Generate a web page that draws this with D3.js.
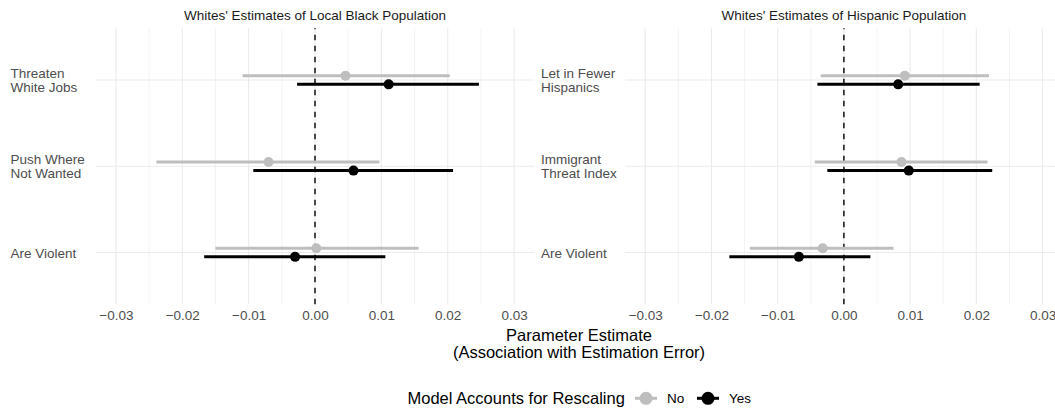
<!DOCTYPE html>
<html>
<head>
<meta charset="utf-8">
<script src="https://cdn.jsdelivr.net/npm/d3@7"></script>
<style>
  html, body { margin: 0; padding: 0; background: #ffffff; }
  svg { display: block; font-family: "Liberation Sans", Arial, Helvetica, sans-serif; }
</style>
</head>
<body>
<svg id="chart" width="1055" height="411"></svg>
<script>
// Panel titles and outcome labels (line breaks marked with \n)
const panelTitles = ["Whites' Estimates of Local Black Population", "Whites' Estimates of Hispanic Population"];
const blackCategories = ["Threaten\nWhite Jobs", "Push Where\nNot Wanted", "Are Violent"];
const hispanicCategories = ["Let in Fewer\nHispanics", "Immigrant\nThreat Index", "Are Violent"];
const models = ["No", "Yes"];
const modelColors = ["#BEBEBE", "#000000"];

// Local Black population panel: estimates and interval bounds
const blackEstimateNo = [0.0046, -0.0070, 0.0002];
const blackLowerNo = [-0.0109, -0.0239, -0.0150];
const blackUpperNo = [0.0203, 0.0097, 0.0156];
const blackEstimateYes = [0.0111, 0.0058, -0.0030];
const blackLowerYes = [-0.0027, -0.0093, -0.0167];
const blackUpperYes = [0.0247, 0.0208, 0.0106];

// Hispanic population panel: estimates and interval bounds
const hispanicEstimateNo = [0.0092, 0.0087, -0.0032];
const hispanicLowerNo = [-0.0035, -0.0044, -0.0142];
const hispanicUpperNo = [0.0219, 0.0217, 0.0075];
const hispanicEstimateYes = [0.0082, 0.0098, -0.0068];
const hispanicLowerYes = [-0.0040, -0.0025, -0.0173];
const hispanicUpperYes = [0.0205, 0.0224, 0.0040];

const tickValues = [-0.03, -0.02, -0.01, 0, 0.01, 0.02, 0.03];
const minorTickValues = [-0.025, -0.015, -0.005, 0.005, 0.015, 0.025];
const xDomain = [-0.033, 0.033];

function rows(categories, est, lo, hi, model) {
  return categories.map((c, i) => ({ category: c, model: model, est: est[i], lo: lo[i], hi: hi[i] }));
}

const panels = [
  {
    title: panelTitles[0],
    categories: blackCategories,
    data: rows(blackCategories, blackEstimateNo, blackLowerNo, blackUpperNo, "No")
      .concat(rows(blackCategories, blackEstimateYes, blackLowerYes, blackUpperYes, "Yes")),
    left: 96, right: 534, labelX: 10.5
  },
  {
    title: panelTitles[1],
    categories: hispanicCategories,
    data: rows(hispanicCategories, hispanicEstimateNo, hispanicLowerNo, hispanicUpperNo, "No")
      .concat(rows(hispanicCategories, hispanicEstimateYes, hispanicLowerYes, hispanicUpperYes, "Yes")),
    left: 625.4, right: 1062.4, labelX: 541
  }
];

const panelTop = 28.3, panelBottom = 304.3;
const dodge = 4.3;
const svg = d3.select("#chart");
const color = d3.scaleOrdinal().domain(models).range(modelColors);
const fmt = d3.format(".2f");

panels.forEach(p => {
  const x = d3.scaleLinear().domain(xDomain).range([p.left, p.right]);
  const y = d3.scalePoint().domain(p.categories).range([panelTop, panelBottom]).padding(0.6);
  const g = svg.append("g");

  // minor and major vertical grid
  g.selectAll("line.minor").data(minorTickValues).join("line")
    .attr("class", "minor")
    .attr("x1", d => x(d)).attr("x2", d => x(d))
    .attr("y1", panelTop).attr("y2", panelBottom)
    .attr("stroke", "#EBEBEB").attr("stroke-width", 0.6);
  g.selectAll("line.major").data(tickValues).join("line")
    .attr("class", "major")
    .attr("x1", d => x(d)).attr("x2", d => x(d))
    .attr("y1", panelTop).attr("y2", panelBottom)
    .attr("stroke", "#EBEBEB").attr("stroke-width", 1.1);
  // horizontal grid at each outcome
  g.selectAll("line.hgrid").data(p.categories).join("line")
    .attr("class", "hgrid")
    .attr("x1", p.left).attr("x2", p.right)
    .attr("y1", d => y(d)).attr("y2", d => y(d))
    .attr("stroke", "#EBEBEB").attr("stroke-width", 1.1);

  // zero reference line
  g.append("line")
    .attr("x1", x(0)).attr("x2", x(0))
    .attr("y1", panelBottom).attr("y2", panelTop)
    .attr("stroke", "#000").attr("stroke-width", 1.4)
    .attr("stroke-dasharray", "5.5 5.5");

  // panel title
  g.append("text")
    .attr("x", (p.left + p.right) / 2).attr("y", 15.2)
    .attr("text-anchor", "middle").attr("dominant-baseline", "central")
    .attr("font-size", 13.5).attr("fill", "#1A1A1A")
    .text(p.title);

  // x axis labels
  const axis = d3.axisBottom(x).tickValues(tickValues).tickSize(0).tickFormat(fmt);
  const ax = g.append("g").attr("transform", `translate(0,${panelBottom})`).call(axis);
  ax.select(".domain").remove();
  ax.selectAll("text")
    .attr("y", 11.4).attr("dy", null).attr("dominant-baseline", "central")
    .attr("font-size", 13.5).attr("fill", "#4D4D4D")
    .attr("font-family", "Liberation Sans, Arial, sans-serif");

  // y labels, left aligned, possibly two lines
  p.categories.forEach(c => {
    const lines = c.split("\n");
    const lh = 14.3;
    const t = g.append("text")
      .attr("x", p.labelX).attr("y", y(c))
      .attr("font-size", 13.5).attr("fill", "#4D4D4D")
      .attr("dominant-baseline", "central");
    lines.forEach((ln, i) => {
      t.append("tspan")
        .attr("x", p.labelX)
        .attr("y", y(c) + (i - (lines.length - 1) / 2) * lh)
        .attr("dominant-baseline", "central")
        .text(ln);
    });
  });

  // intervals and point estimates
  const off = d => (d.model === "No" ? -dodge : dodge);
  g.selectAll("line.range").data(p.data).join("line")
    .attr("class", "range")
    .attr("x1", d => x(d.lo)).attr("x2", d => x(d.hi))
    .attr("y1", d => y(d.category) + off(d)).attr("y2", d => y(d.category) + off(d))
    .attr("stroke", d => color(d.model)).attr("stroke-width", 3);
  g.selectAll("circle.est").data(p.data).join("circle")
    .attr("class", "est")
    .attr("cx", d => x(d.est)).attr("cy", d => y(d.category) + off(d))
    .attr("r", 5).attr("fill", d => color(d.model));
});

// shared x axis title
svg.append("text")
  .attr("x", 579).attr("text-anchor", "middle")
  .attr("font-size", 16.5).attr("fill", "#000")
  .selectAll("tspan").data(["Parameter Estimate", "(Association with Estimation Error)"]).join("tspan")
  .attr("x", 579).attr("y", (d, i) => 335 + i * 16.8)
  .attr("dominant-baseline", "central")
  .text(d => d);

// legend
const legY = 398.3;
svg.append("text")
  .attr("x", 407.5).attr("y", legY)
  .attr("dominant-baseline", "central")
  .attr("font-size", 16.5).attr("fill", "#000")
  .text("Model Accounts for Rescaling");
const keyX = [646, 708];
models.forEach((m, i) => {
  const k = svg.append("g");
  k.append("line")
    .attr("x1", keyX[i] - 11).attr("x2", keyX[i] + 11)
    .attr("y1", legY).attr("y2", legY)
    .attr("stroke", color(m)).attr("stroke-width", 3);
  k.append("circle")
    .attr("cx", keyX[i]).attr("cy", legY).attr("r", 6.5)
    .attr("fill", color(m));
  k.append("text")
    .attr("x", keyX[i] + 21).attr("y", legY)
    .attr("dominant-baseline", "central")
    .attr("font-size", 13.5).attr("fill", "#000")
    .text(m);
});
</script>
</body>
</html>
